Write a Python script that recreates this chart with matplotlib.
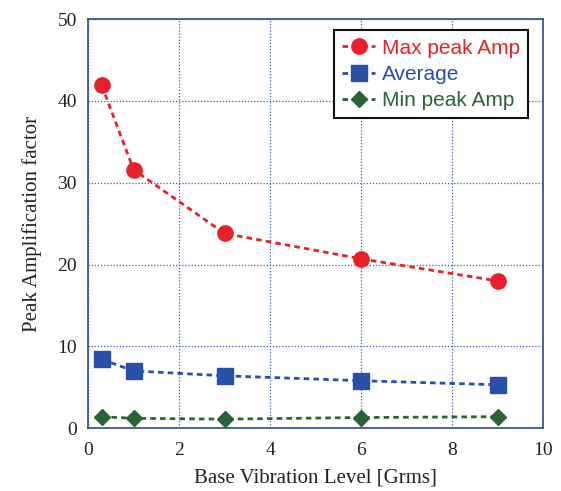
import numpy as np
import matplotlib.pyplot as plt

level = [0.3, 1, 3, 6, 9]
max_amp = [41.9, 31.6, 23.8, 20.7, 18.0]
avg_amp = [8.4, 7.0, 6.4, 5.8, 5.3]
min_amp = [1.4, 1.2, 1.1, 1.3, 1.4]


def main():
    fig = plt.figure(figsize=(5.61, 4.91), dpi=100)
    ax = fig.add_axes([0.157, 0.128, 0.811, 0.833])

    ax.plot(level, max_amp, ls=(0, (2, 1.5)), lw=2, color="#e8202a",
            marker="o", ms=11, label="Max peak Amp")
    ax.plot(level, avg_amp, ls=(0, (2, 1.5)), lw=2, color="#2a4fa8",
            marker="s", ms=11, label="Average")
    ax.plot(level, min_amp, ls=(0, (2, 1.5)), lw=2, color="#2a6436",
            marker="D", ms=8, label="Min peak Amp")

    ax.set_xlim(0, 10)
    ax.set_ylim(0, 50)
    ax.set_xticks(np.arange(0, 11, 2))
    ax.set_yticks(np.arange(0, 51, 10))
    ax.grid(True, color="#3a5cb8", ls=(0, (1, 1.5)), lw=0.9)
    for s in ax.spines.values():
        s.set_color("#2a4a9a")
        s.set_linewidth(1.2)
    ax.tick_params(length=0, labelsize=14, labelcolor="#222222")
    ax.tick_params(axis="x", pad=10)
    ax.tick_params(axis="y", pad=8)
    for lab in ax.get_xticklabels() + ax.get_yticklabels():
        lab.set_family("Liberation Serif")

    ax.set_xlabel("Base Vibration Level [Grms]", family="Liberation Serif",
                  fontsize=15, color="#222222", labelpad=7)
    ax.set_ylabel("Peak Amplification factor", family="Liberation Serif",
                  fontsize=15, color="#222222", labelpad=11)

    leg = ax.legend(loc="upper right", bbox_to_anchor=(0.967, 0.973),
                    borderaxespad=0,
                    prop={"family": "Liberation Sans", "size": 15},
                    fancybox=False, framealpha=1, edgecolor="#111111",
                    handlelength=1.6, handletextpad=0.3, borderpad=0.4,
                    labelspacing=0.35)
    leg.get_frame().set_linewidth(1.5)
    for txt, line in zip(leg.get_texts(), leg.get_lines()):
        txt.set_color(line.get_color())

    fig.savefig("out.png", dpi=100)


if __name__ == "__main__":
    main()
